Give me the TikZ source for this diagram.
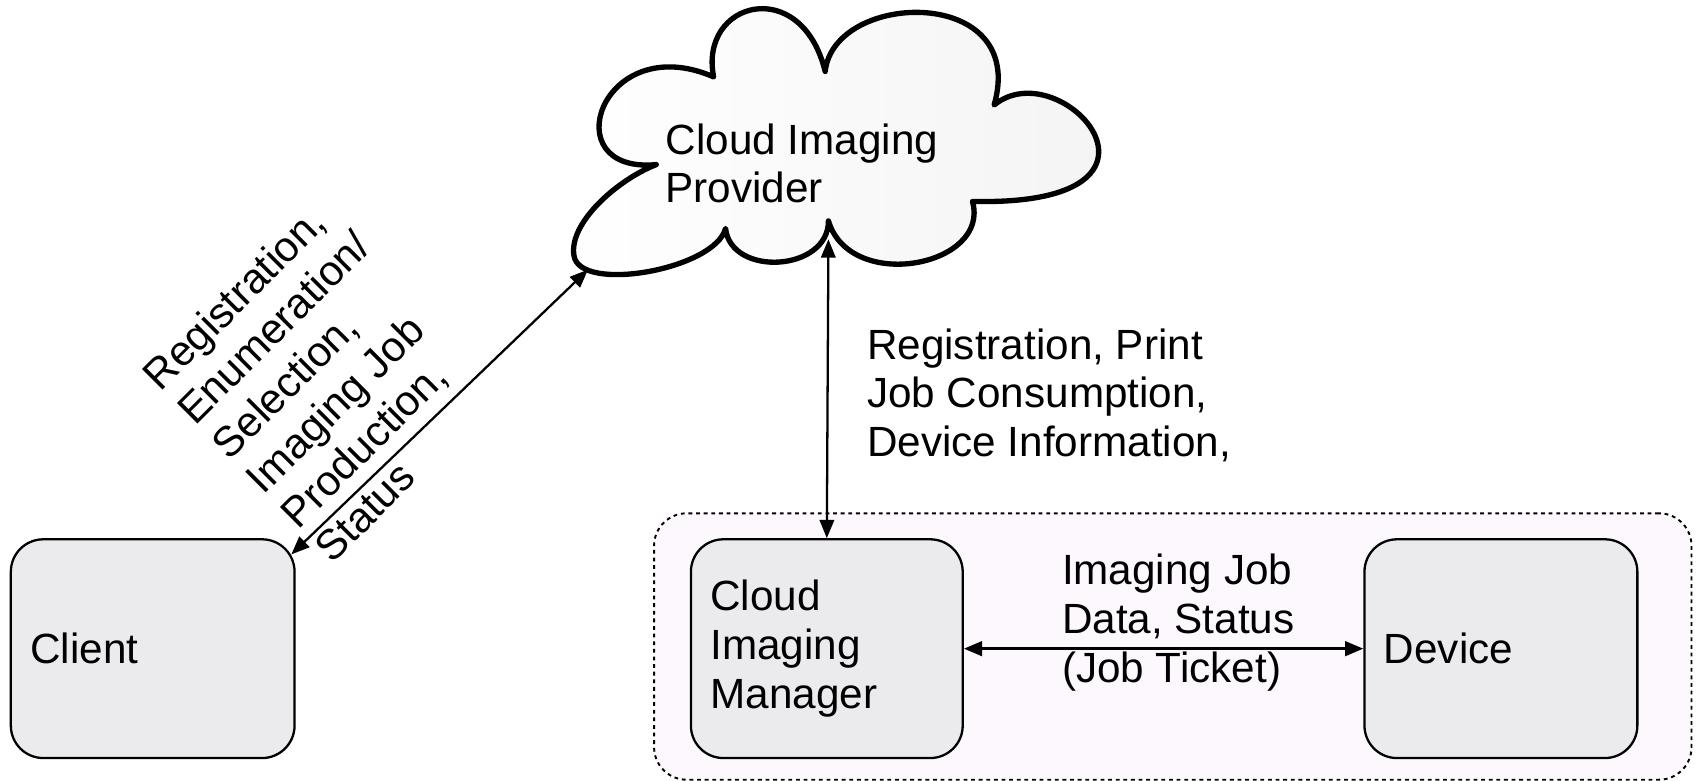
\documentclass[tikz,border=0pt]{standalone}
\usepackage{fontspec}
\setmainfont{Liberation Sans}
\usetikzlibrary{arrows.meta,calc}
\definecolor{boxgray}{HTML}{EBEBEE}
\definecolor{groupfill}{HTML}{FDF8FD}

\begin{document}
\begin{tikzpicture}[
  every node/.style={font=\fontsize{11.1}{12.8}\selectfont},
  box/.style={draw,line width=0.6pt,fill=boxgray,rounded corners=0.3cm,
    minimum height=2.02cm,align=left,inner xsep=0.18cm},
  lbl/.style={align=left,inner sep=0pt,anchor=west},
  >={Triangle[length=4.8pt,width=3.8pt]},
  dbl/.style={<->,line width=0.6pt}
]
\useasboundingbox (0,0) rectangle (15.68,7.21);

\node[draw,dash pattern=on 1pt off 1pt,line width=0.5pt,fill=groupfill,rounded corners=0.3cm,
  minimum width=9.58cm,minimum height=2.46cm] (group) at (10.83,1.24) {};

\draw[line width=1.4pt,line join=round,left color=white,right color=black!5]
  (5.30,4.85) .. controls (5.25,5.15) and (5.70,5.55) .. (6.06,5.69)
  .. controls (5.10,5.60) and (5.55,6.95) .. (6.59,6.50)
  .. controls (6.45,7.20) and (7.40,7.45) .. (7.62,6.55)
  .. controls (7.70,7.30) and (9.50,7.35) .. (9.18,6.24)
  .. controls (9.80,6.75) and (11.10,5.30) .. (8.98,5.35)
  .. controls (9.15,4.75) and (7.85,4.50) .. (7.65,5.17)
  .. controls (7.65,4.70) and (6.75,4.65) .. (6.70,5.10)
  .. controls (6.60,4.72) and (5.35,4.50) .. (5.30,4.85) -- cycle;
\node[lbl] (provider) at (6.14,5.70) {Cloud Imaging\\Provider};
\coordinate (lobe) at (5.43,4.72);
\coordinate (notch) at (7.65,5.00);

\node[box,text width=2.26cm] (client) at (1.41,1.22) {Client};
\node[box,text width=2.15cm] (manager) at (7.635,1.22) {Cloud\\Imaging\\Manager};
\node[box,text width=2.16cm] (device) at (13.86,1.22) {Device};

\draw[dbl] ($(client.north east)+(-0.04,-0.15)$) -- (lobe);
\draw[dbl] (manager.north) -- (notch);
\draw[dbl,line width=0.8pt] (manager.east) -- (device.west);

\node[lbl,rotate=45,anchor=center] (clientlbl) at (3.00,3.71)
  {Registration,\\Enumeration/\\Selection,\\Imaging Job\\Production,\\Status};
\node[lbl] (providerlbl) at (8.00,3.56) {Registration, Print\\Job Consumption,\\Device Information,};
\node[lbl] (joblbl) at (9.80,1.46) {Imaging Job\\Data, Status\\(Job Ticket)};
\end{tikzpicture}
\end{document}
